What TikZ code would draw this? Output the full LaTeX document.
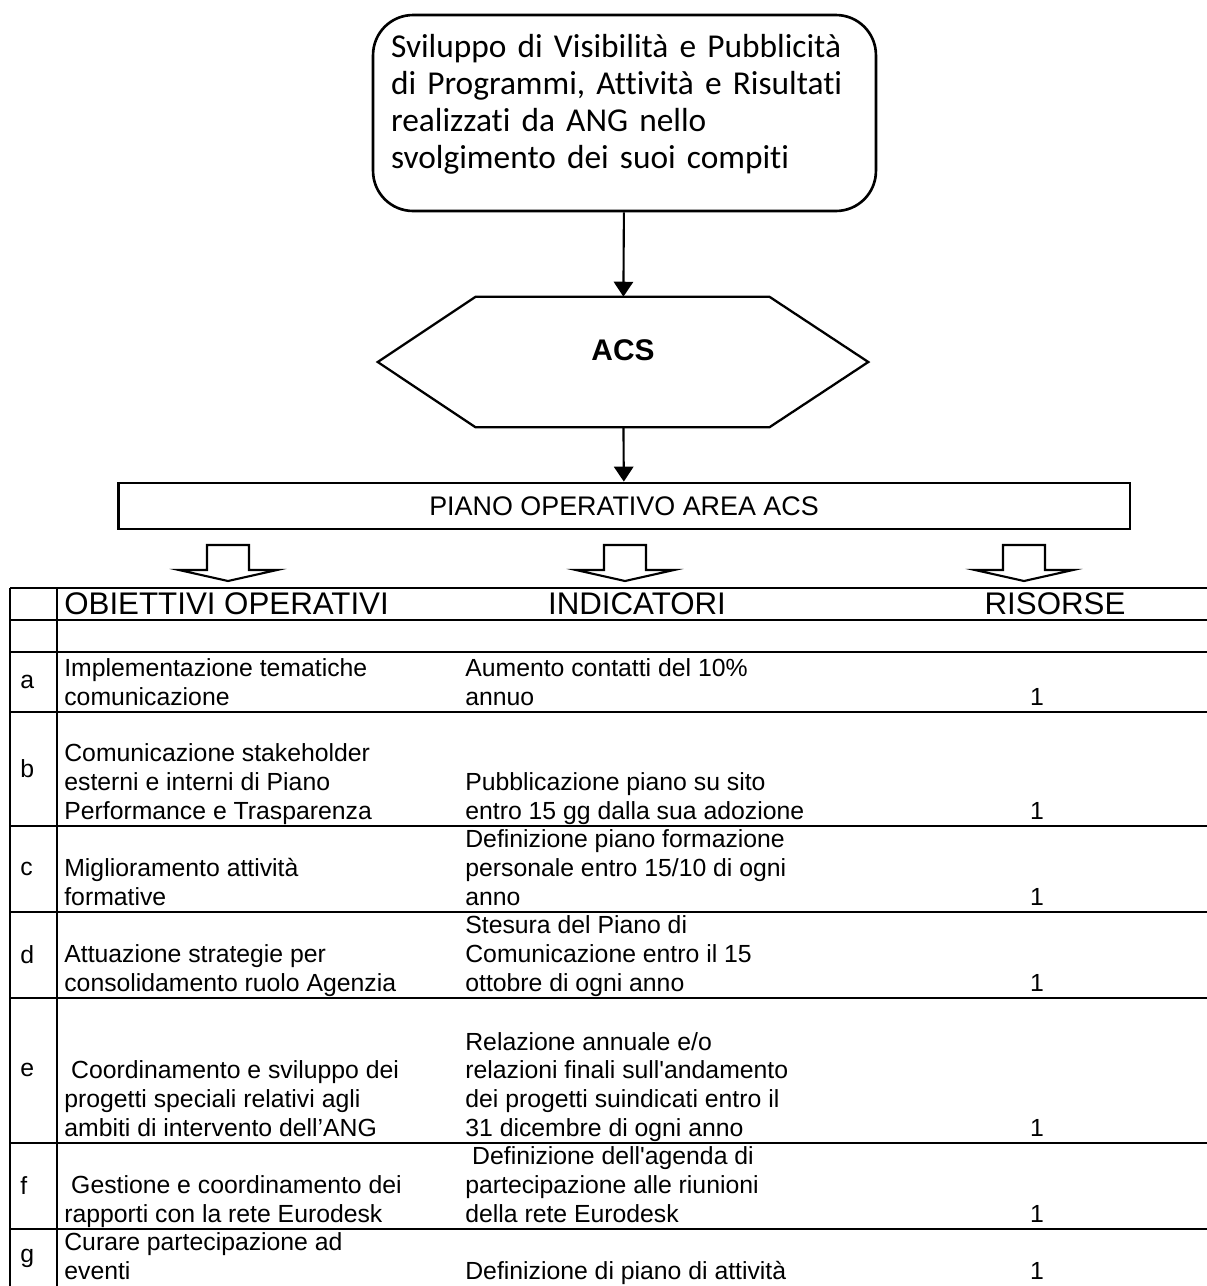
\documentclass[tikz,border=0pt]{standalone}
\usepackage{fontspec}
\setmainfont{Liberation Sans}
\newfontfamily\calfont[Ligatures=NoCommon]{Carlito}
\usetikzlibrary{arrows.meta,calc}

\newcommand{\goalfont}{\calfont\fontsize{19}{21.2}\selectfont}
\newcommand{\cellfont}{\fontsize{14.1}{16.3}\selectfont}
\newcommand{\headfont}{\fontsize{17.8}{20}\selectfont}
\newcommand{\pianofont}{\fontsize{15.3}{18}\selectfont}

\begin{document}
\begin{tikzpicture}[x=0.02cm,y=-0.02cm,
  flow/.style={line width=1.2pt,-{Triangle[length=8.5pt,width=11pt]}},
  goal/.style={draw,line width=1.5pt,rounded corners=0.8cm,align=left,
    text width=9.34cm,inner xsep=0.36cm,minimum height=3.92cm,font=\goalfont},
  hexbox/.style={inner sep=0pt,minimum width=9.8cm,minimum height=2.6cm},
  hexlabel/.style={font=\fontsize{17}{20}\selectfont\bfseries,yshift=0.24cm},
  piano/.style={draw,line width=1.6pt,minimum width=20.24cm,minimum height=0.92cm,font=\pianofont},
  openarrow/.style={line width=1.2pt},
  tbl/.style={line width=1.6pt},
  cell/.style={anchor=south west,inner sep=0pt,align=left,font=\cellfont,execute at end node=\strut},
  num/.style={anchor=south,inner sep=0pt,font=\cellfont,execute at end node=\strut},
  tag/.style={anchor=west,inner sep=0pt,font=\cellfont},
  head/.style={inner sep=0pt,font=\headfont}]
\useasboundingbox (0,0) rectangle (1207,1286);

% top of the chart
\node[goal] (goal) at (624.5,113) {Sviluppo di Visibilità e Pubblicità\\di Programmi, Attività e Risultati\\realizzati da ANG nello\\svolgimento dei suoi compiti\\[-8pt]\mbox{}};
\node[hexbox,label={[hexlabel]center:ACS}] (acs) at (623,362) {};
\draw[line width=1.3pt] (acs.west) -- ($(acs.north west)+(98,0)$) -- ($(acs.north east)+(-99,0)$) -- (acs.east)
  -- ($(acs.south east)+(-99,0)$) -- ($(acs.south west)+(98,0)$) -- cycle;
\node[piano] (piano) at (624,506) {PIANO OPERATIVO AREA ACS};
\draw[flow] (goal) -- (acs);
\draw[flow] (acs) -- (piano);

% hollow arrows
\draw[openarrow] (207,545) -- (249,545) -- (249,570) -- (277,570) -- (228,581) -- (179,570) -- (207,570) -- cycle;
\draw[openarrow] (604,545) -- (646,545) -- (646,570) -- (674,570) -- (625,581) -- (576,570) -- (604,570) -- cycle;
\draw[openarrow] (1003,545) -- (1045,545) -- (1045,570) -- (1073,570) -- (1024,581) -- (975,570) -- (1003,570) -- cycle;

% table
\draw[tbl] (10,588) -- (1210,588);
\draw[tbl] (10,620) -- (1210,620);
\draw[tbl] (10,652) -- (1210,652);
\draw[tbl] (10,712) -- (1210,712);
\draw[tbl] (10,826) -- (1210,826);
\draw[tbl] (10,912) -- (1210,912);
\draw[tbl] (10,998) -- (1210,998);
\draw[tbl] (10,1143) -- (1210,1143);
\draw[tbl] (10,1229) -- (1210,1229);
\draw[tbl] (10,588) -- (10,1290);
\draw[tbl] (57,588) -- (57,1290);

\node[head,anchor=west] (hobj) at (64,604) {OBIETTIVI OPERATIVI};
\node[head] (hind) at (637,604) {INDICATORI};
\node[head] (hris) at (1055,604) {RISORSE};

\node[tag] (la) at (20,682) {a};
\node[cell] (oa) at (64,714) {Implementazione tematiche\\comunicazione};
\node[cell] (ia) at (465,714) {Aumento contatti del 10\%\\annuo};
\node[num] (ra) at (1037,714) {1};

\node[tag] (lb) at (20,769) {b};
\node[cell] (ob) at (64,828) {Comunicazione stakeholder\\esterni e interni di Piano\\Performance e Trasparenza};
\node[cell] (ib) at (465,828) {Pubblicazione piano su sito\\entro 15 gg dalla sua adozione};
\node[num] (rb) at (1037,828) {1};

\node[tag] (lc) at (20,869) {c};
\node[cell] (oc) at (64,914) {Miglioramento attività\\formative};
\node[cell] (ic) at (465,914) {Definizione piano formazione\\personale entro 15/10 di ogni\\anno};
\node[num] (rc) at (1037,914) {1};

\node[tag] (ld) at (20,955) {d};
\node[cell] (od) at (64,1000) {Attuazione strategie per\\consolidamento ruolo Agenzia};
\node[cell] (id) at (465,1000) {Stesura del Piano di\\Comunicazione entro il 15\\ottobre di ogni anno};
\node[num] (rd) at (1037,1000) {1};

\node[tag] (le) at (20,1070) {e};
\node[cell] (oe) at (64,1145) {\ Coordinamento e sviluppo dei\\progetti speciali relativi agli\\ambiti di intervento dell’ANG};
\node[cell] (ie) at (465,1145) {Relazione annuale e/o\\relazioni finali sull\textquotesingle andamento\\dei progetti suindicati entro il\\31 dicembre di ogni anno};
\node[num] (re) at (1037,1145) {1};

\node[tag] (lf) at (20,1186) {f};
\node[cell] (of) at (64,1231) {\ Gestione e coordinamento dei\\rapporti con la rete Eurodesk};
\node[cell] (if) at (465,1231) {\ Definizione dell\textquotesingle agenda di\\partecipazione alle riunioni\\della rete Eurodesk};
\node[num] (rf) at (1037,1231) {1};

\node[tag] (lg) at (20,1258) {g};
\node[cell] (og) at (64,1288) {Curare partecipazione ad\\eventi};
\node[cell] (ig) at (465,1288) {Definizione di piano di attività};
\node[num] (rg) at (1037,1288) {1};
\end{tikzpicture}
\end{document}
